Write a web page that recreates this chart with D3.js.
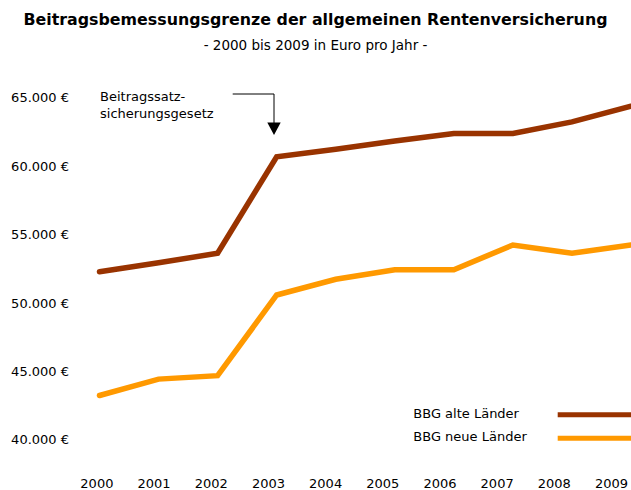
<!DOCTYPE html>
<html>
<head>
<meta charset="utf-8">
<script src="https://cdn.jsdelivr.net/npm/d3@7"></script>
<style>
  html, body { margin: 0; padding: 0; background: #fff; }
  svg { display: block; }
  text { font-family: "DejaVu Sans", Verdana, sans-serif; fill: #000; }
</style>
</head>
<body>
<svg id="chart" width="631" height="490"></svg>
<script>
const years = ["2000","2001","2002","2003","2004","2005","2006","2007","2008","2009"];
const alteLaender = [52250, 52900, 53600, 60650, 61200, 61800, 62350, 62350, 63200, 64350];
const neueLaender = [43200, 44400, 44650, 50550, 51700, 52400, 52400, 54200, 53600, 54200];
const yTicks = [40000, 45000, 50000, 55000, 60000, 65000];
const seriesNames = ["BBG alte Länder", "BBG neue Länder"];
const seriesColors = ["#993300", "#FF9900"];
const titleText = "Beitragsbemessungsgrenze der allgemeinen Rentenversicherung";
const subtitleText = "- 2000 bis 2009 in Euro pro Jahr -";
const annotationLines = ["Beitragssatz-", "sicherungsgesetz"];

const svg = d3.select("#chart");
const W = 631, H = 490;
const FONT = '"DejaVu Sans", Verdana, sans-serif';

const y = d3.scaleLinear().domain([40000, 65000]).range([439.3, 97.3]);
const xData = d3.scalePoint().domain(years).range([99.5, 631]);
const xLabel = d3.scalePoint().domain(years).range([96.4, 611]);

function fitText(sel, base, target) {
  const w = sel.node().getComputedTextLength();
  sel.style("font-size", (base * target / w).toFixed(2) + "px");
}

// Title
const title = svg.append("text")
  .attr("x", W / 2).attr("y", 25)
  .attr("text-anchor", "middle")
  .style("font-weight", "bold").style("font-size", "15px")
  .text(titleText);
fitText(title, 15, 584);

const sub = svg.append("text")
  .attr("x", W / 2).attr("y", 50)
  .attr("text-anchor", "middle")
  .style("font-size", "13px")
  .text(subtitleText);
fitText(sub, 13, 224);

// Y axis labels
const fmt = v => d3.format(",")(v).replace(/,/g, ".") + " €";
const yAxis = d3.axisLeft(y).tickValues(yTicks).tickSize(0).tickPadding(0).tickFormat(fmt);
const gy = svg.append("g").attr("transform", "translate(69,0)").call(yAxis);
gy.select(".domain").remove();
gy.attr("font-family", null).attr("font-size", null);
gy.selectAll("text").style("font-size", "13px").style("font-family", FONT).attr("fill", "#000").attr("dy", "0.35em");

// X axis labels
const xAxis = d3.axisBottom(xLabel).tickSize(0).tickPadding(0);
const gx = svg.append("g").attr("transform", "translate(0,479)").call(xAxis);
gx.select(".domain").remove();
gx.attr("font-family", null).attr("font-size", null);
gx.selectAll("text").style("font-size", "13px").style("font-family", FONT).style("font-weight", "normal").attr("fill", "#000");

// Lines
const line = d3.line().x((d, i) => xData(years[i])).y(d => y(d));
[alteLaender, neueLaender].forEach((s, k) => {
  svg.append("path").datum(s)
    .attr("d", line)
    .attr("fill", "none")
    .attr("stroke", seriesColors[k])
    .attr("stroke-width", 5.5)
    .attr("stroke-linejoin", "miter")
    .attr("stroke-linecap", "round");
});

// Annotation
const ann = svg.append("text").attr("x", 100).attr("y", 101).style("font-size", "13px");
annotationLines.forEach((t, i) => {
  ann.append("tspan").attr("x", 100).attr("dy", i === 0 ? 0 : 16.6).text(t);
});
const ax = 274;
svg.append("path")
  .attr("d", `M232.7,94 H${ax} V123`)
  .attr("fill", "none").attr("stroke", "#000").attr("stroke-width", 1);
svg.append("path")
  .attr("d", `M${ax - 6.7},122.5 L${ax + 6.7},122.5 L${ax},135 Z`)
  .attr("fill", "#000");

// Legend
const legendY = [413.3, 436.7];
seriesNames.forEach((n, k) => {
  svg.append("text").attr("x", 413.3).attr("y", legendY[k]).attr("dy", "0.35em")
    .style("font-size", "13px").text(n);
  svg.append("line")
    .attr("x1", 557.7).attr("x2", 631)
    .attr("y1", legendY[k] + 1.5).attr("y2", legendY[k] + 1.5)
    .attr("stroke", seriesColors[k]).attr("stroke-width", 5);
});
</script>
</body>
</html>
